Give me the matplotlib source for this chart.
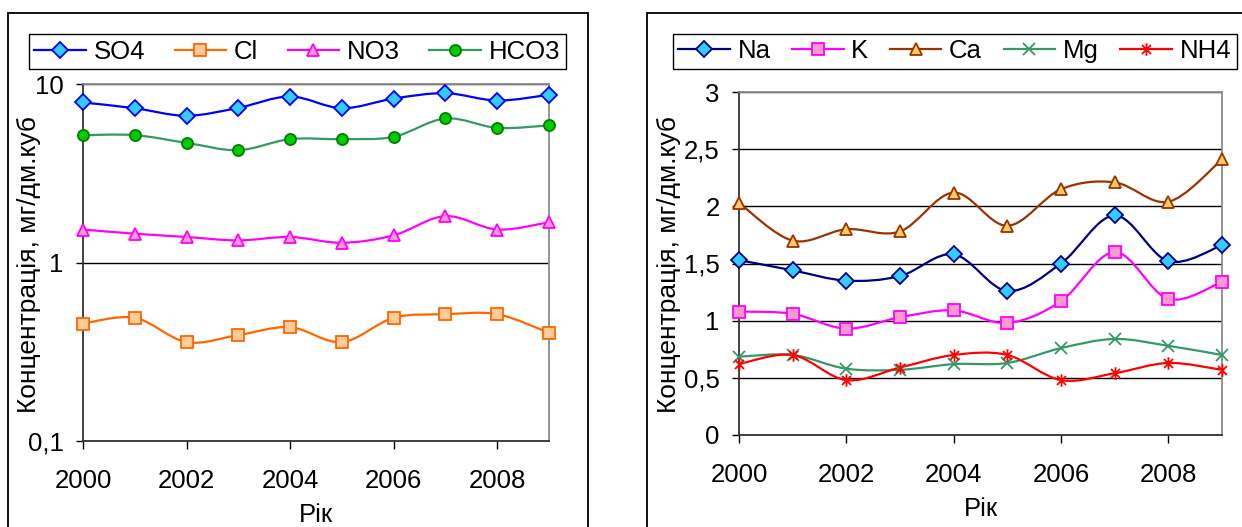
import numpy as np
import matplotlib
matplotlib.use('Agg')
import matplotlib.pyplot as plt
from matplotlib.path import Path
from matplotlib.patches import PathPatch, Rectangle
from matplotlib.lines import Line2D
from matplotlib.ticker import FixedLocator, FixedFormatter

plt.rcParams['font.family'] = ['Liberation Sans', 'DejaVu Sans']

years = [2000, 2001, 2002, 2003, 2004, 2005, 2006, 2007, 2008, 2009]

# anions (log scale)
so4 = [7.88, 7.32, 6.64, 7.35, 8.51, 7.32, 8.29, 8.88, 8.08, 8.70]
cl = [0.455, 0.490, 0.358, 0.392, 0.434, 0.358, 0.490, 0.513, 0.513, 0.404]
no3 = [1.53, 1.45, 1.39, 1.33, 1.39, 1.29, 1.42, 1.82, 1.53, 1.68]
hco3 = [5.17, 5.17, 4.68, 4.26, 4.91, 4.91, 5.06, 6.41, 5.68, 5.86]

# cations (linear scale)
na = [1.53, 1.44, 1.35, 1.39, 1.58, 1.26, 1.50, 1.92, 1.52, 1.66]
k = [1.08, 1.06, 0.93, 1.03, 1.09, 0.98, 1.17, 1.60, 1.19, 1.34]
ca = [2.03, 1.70, 1.80, 1.78, 2.12, 1.83, 2.15, 2.21, 2.04, 2.41]
mg = [0.685, 0.70, 0.58, 0.57, 0.62, 0.63, 0.76, 0.84, 0.78, 0.70]
nh4 = [0.62, 0.70, 0.48, 0.59, 0.70, 0.70, 0.48, 0.54, 0.63, 0.57]

ylabel = 'Концентрація, мг/дм.куб'
xlabel = 'Рік'

W, H = 1242, 527
FS = 18.5

# asterisk marker: vertical bar plus an X
star = Path([(0, -1), (0, 1), (-0.72, -0.72), (0.72, 0.72), (-0.72, 0.72), (0.72, -0.72)],
            [Path.MOVETO, Path.LINETO] * 3)


def smooth_path(x, y, logy=False):
    # cubic bezier through the points, like a spreadsheet "smoothed line"
    x = np.asarray(x, float)
    y = np.log10(y) if logy else np.asarray(y, float)
    n = len(x)
    verts = [(x[0], y[0])]
    codes = [Path.MOVETO]
    for i in range(n - 1):
        a = max(i - 1, 0)
        b = min(i + 2, n - 1)
        c1 = (x[i] + (x[i + 1] - x[a]) / 6, y[i] + (y[i + 1] - y[a]) / 6)
        c2 = (x[i + 1] - (x[b] - x[i]) / 6, y[i + 1] - (y[b] - y[i]) / 6)
        verts += [c1, c2, (x[i + 1], y[i + 1])]
        codes += [Path.CURVE4] * 3
    verts = np.array(verts)
    if logy:
        verts[:, 1] = 10 ** verts[:, 1]
    return Path(verts, codes)


def fpos(x0, y0, x1, y1):
    return [x0 / W, 1 - y1 / H, (x1 - x0) / W, (y1 - y0) / H]


def draw_series(ax, y, style, logy):
    ax.add_patch(PathPatch(smooth_path(years, y, logy), fill=False,
                           ec=style['color'], lw=1.6, zorder=3))
    ax.plot(years, y, ls='none', marker=style['marker'], ms=style['ms'],
            mfc=style['mfc'], mec=style['mec'], mew=1.3, zorder=4, clip_on=False)
    return Line2D([], [], color=style['color'], lw=1.6, marker=style['marker'],
                  ms=style['ms'], mfc=style['mfc'], mec=style['mec'], mew=1.3)


def style_axes(ax, label_x, label_y):
    ax.set_xlim(2000, 2009)
    ax.xaxis.set_major_locator(FixedLocator([2000, 2002, 2004, 2006, 2008]))
    ax.grid(axis='y', color='black', lw=1.0, zorder=1)
    ax.set_axisbelow(True)
    for s in ('left', 'bottom'):
        ax.spines[s].set_color('#333333')
        ax.spines[s].set_linewidth(1.3)
    for s in ('top', 'right'):
        ax.spines[s].set_color('#8c8c8c')
        ax.spines[s].set_linewidth(1.3)
    ax.tick_params(axis='x', direction='out', length=6, width=1, pad=14.5, labelsize=FS)
    ax.tick_params(axis='y', direction='out', length=5, width=1, pad=9, labelsize=FS)
    ax.tick_params(which='minor', length=0)
    ax.set_xlabel(xlabel, fontsize=FS, labelpad=7)
    ax.set_ylabel(ylabel, fontsize=19)
    ax.yaxis.set_label_coords(label_x, label_y)
    ax.yaxis.label.set_verticalalignment('center')


fig = plt.figure(figsize=(W / 100, H / 100), dpi=100)

# outer chart frames
fig.add_artist(Rectangle((8 / W, -0.05), 580 / W, 1.05 - 13 / H, transform=fig.transFigure,
                         fill=False, ec='black', lw=1.3))
fig.add_artist(Rectangle((647 / W, -0.05), 700 / W, 1.05 - 13 / H, transform=fig.transFigure,
                         fill=False, ec='black', lw=1.3))

# left chart: anions
ax1 = fig.add_axes(fpos(83, 84, 549, 441))
ax1.set_yscale('log')
ax1.set_ylim(0.1, 10)
anion_styles = [
    ('SO4', so4, dict(color='#0000FF', marker='D', ms=8, mfc='#33CCFF', mec='#0000FF')),
    ('Cl', cl, dict(color='#FF6600', marker='s', ms=8, mfc='#FFCC99', mec='#FF6600')),
    ('NO3', no3, dict(color='#FF00FF', marker='^', ms=9, mfc='#FF99CC', mec='#FF00FF')),
    ('HCO3', hco3, dict(color='#339966', marker='o', ms=8, mfc='#00CC00', mec='#008000')),
]
h1 = [draw_series(ax1, y, st, True) for _, y, st in anion_styles]
style_axes(ax1, (29 - 83) / 466, 0.494)
ax1.yaxis.set_major_locator(FixedLocator([0.1, 1, 10]))
ax1.yaxis.set_major_formatter(FixedFormatter(['0,1', '1', '10']))
ax1.yaxis.set_minor_locator(FixedLocator([]))
fig.legend(h1, [n for n, _, _ in anion_styles], loc='center', mode='expand', ncol=4,
           bbox_to_anchor=(28.7 / W, 1 - 71 / H, 537 / W, 39 / H),
           fontsize=FS, frameon=True, fancybox=False, edgecolor='black', framealpha=1,
           handlelength=2.0, handletextpad=0.3, columnspacing=0.9, borderpad=0.22,
           borderaxespad=0).get_frame().set_linewidth(1.0)

# right chart: cations
ax2 = fig.add_axes(fpos(739, 92, 1222, 435))
ax2.set_ylim(0, 3)
cation_styles = [
    ('Na', na, dict(color='#000080', marker='D', ms=8, mfc='#33CCFF', mec='#000080')),
    ('K', k, dict(color='#FF00FF', marker='s', ms=8, mfc='#FF99CC', mec='#FF00FF')),
    ('Ca', ca, dict(color='#993300', marker='^', ms=9, mfc='#FFCC66', mec='#993300')),
    ('Mg', mg, dict(color='#339966', marker='x', ms=9, mfc='none', mec='#339966')),
    ('NH4', nh4, dict(color='#FF0000', marker=star, ms=9, mfc='none', mec='#FF0000')),
]
h2 = [draw_series(ax2, y, st, False) for _, y, st in cation_styles]
style_axes(ax2, (669 - 739) / 483, 0.497)
ax2.yaxis.set_major_locator(FixedLocator([0, 0.5, 1, 1.5, 2, 2.5, 3]))
ax2.yaxis.set_major_formatter(FixedFormatter(['0', '0,5', '1', '1,5', '2', '2,5', '3']))
fig.legend(h2, [n for n, _, _ in cation_styles], loc='center', mode='expand', ncol=5,
           bbox_to_anchor=(672.7 / W, 1 - 71.7 / H, 564 / W, 41 / H),
           fontsize=FS, frameon=True, fancybox=False, edgecolor='black', framealpha=1,
           handlelength=2.0, handletextpad=0.3, columnspacing=0.9, borderpad=0.22,
           borderaxespad=0).get_frame().set_linewidth(1.0)

fig.savefig('out.png', dpi=100)
